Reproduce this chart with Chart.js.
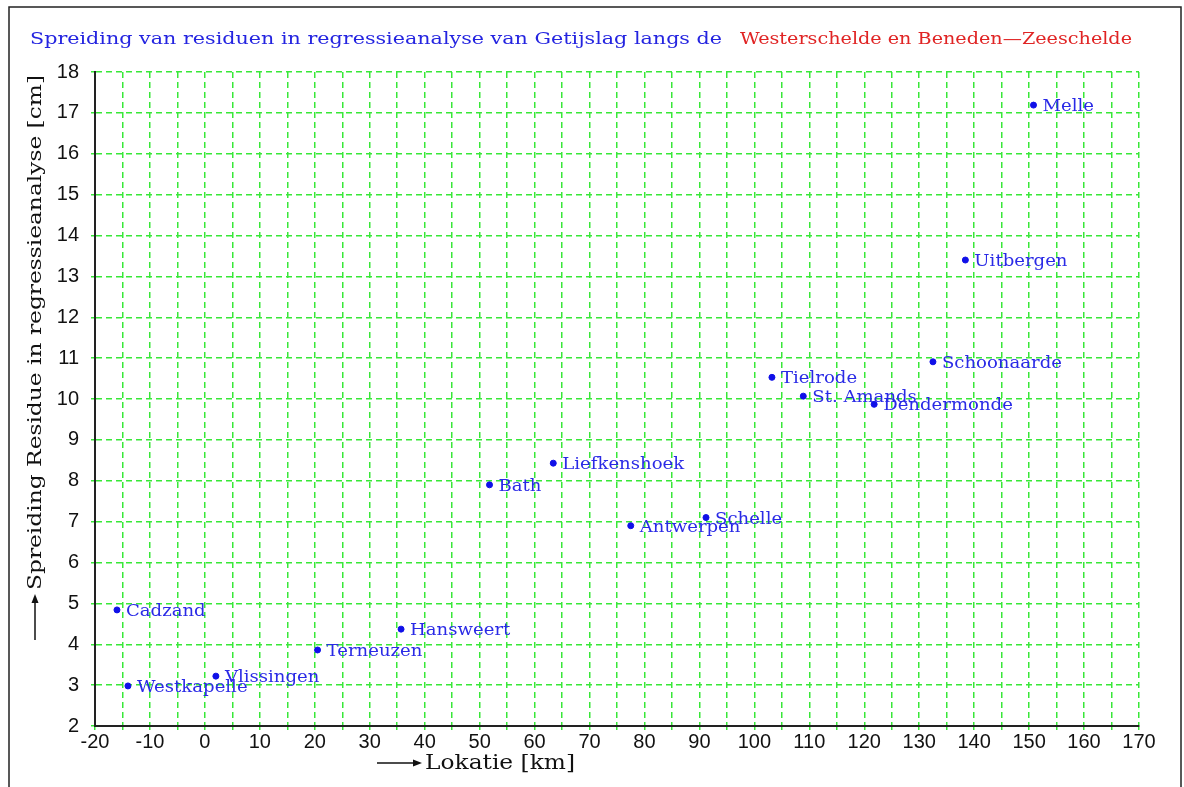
<!DOCTYPE html>
<html>
<head>
<meta charset="utf-8">
<script src="https://cdn.jsdelivr.net/npm/chart.js@4"></script>
<style>
  html, body { margin: 0; padding: 0; background: #fff; }
  #wrap { width: 1184px; height: 787px; }
</style>
</head>
<body>
<div id="wrap"><canvas id="chart" width="1184" height="787"></canvas></div>
<script>
// Stations along the Westerschelde / Beneden-Zeeschelde
const stations = ['Cadzand', 'Westkapelle', 'Vlissingen', 'Terneuzen', 'Hansweert', 'Bath',
  'Liefkenshoek', 'Antwerpen', 'Schelle', 'Tielrode', 'St. Amands', 'Dendermonde',
  'Schoonaarde', 'Uitbergen', 'Melle'];
const lokatie = [-16.0, -14.0, 2.0, 20.5, 35.7, 51.8, 63.4, 77.5, 91.2, 103.2, 108.9, 121.8, 132.5, 138.4, 150.8];
const residu = [4.84, 2.98, 3.22, 3.86, 4.37, 7.90, 8.43, 6.90, 7.10, 10.53, 10.07, 9.87, 10.91, 13.40, 17.19];

const xTicks = [-20, -10, 0, 10, 20, 30, 40, 50, 60, 70, 80, 90, 100, 110, 120, 130, 140, 150, 160, 170];
const yTicks = [2, 3, 4, 5, 6, 7, 8, 9, 10, 11, 12, 13, 14, 15, 16, 17, 18];

const titleBlue = 'Spreiding van residuen in regressieanalyse van Getijslag langs de';
const titleRed = 'Westerschelde en Beneden\u2014Zeeschelde';
const yTitle = 'Spreiding Residue in regressieanalyse [cm]';
const xTitle = 'Lokatie [km]';

const GREEN = '#38e838';
const SERIF = '"DejaVu Serif", "Liberation Serif", serif';

// arrow helper for the axis titles
function arrow(ctx, x1, y1, x2, y2) {
  const ang = Math.atan2(y2 - y1, x2 - x1);
  ctx.beginPath();
  ctx.moveTo(x1, y1);
  ctx.lineTo(x2 - 6 * Math.cos(ang), y2 - 6 * Math.sin(ang));
  ctx.stroke();
  ctx.beginPath();
  ctx.moveTo(x2, y2);
  ctx.lineTo(x2 - 9 * Math.cos(ang) + 3.5 * Math.sin(ang), y2 - 9 * Math.sin(ang) - 3.5 * Math.cos(ang));
  ctx.lineTo(x2 - 9 * Math.cos(ang) - 3.5 * Math.sin(ang), y2 - 9 * Math.sin(ang) + 3.5 * Math.cos(ang));
  ctx.closePath();
  ctx.fill();
}

// draw text stretched horizontally so it is as wide as in the original plot
function wideText(ctx, text, x, y, width) {
  const w = ctx.measureText(text).width;
  ctx.save();
  ctx.translate(x, y);
  ctx.scale(width / w, 1);
  ctx.fillText(text, 0, 0);
  ctx.restore();
}

const decor = {
  id: 'decor',
  beforeDraw(chart) {
    const ctx = chart.ctx;
    ctx.save();
    ctx.fillStyle = '#fff';
    ctx.fillRect(0, 0, chart.width, chart.height);
    ctx.restore();
  },
  afterDatasetsDraw(chart) {
    const ctx = chart.ctx;
    const meta = chart.getDatasetMeta(0);
    ctx.save();
    ctx.font = '16px ' + SERIF;
    ctx.fillStyle = '#2a2ae6';
    ctx.textBaseline = 'middle';
    meta.data.forEach((pt, i) => {
      const w = ctx.measureText(stations[i]).width;
      wideText(ctx, stations[i], pt.x + 9, pt.y + 2, w * 1.13);
    });
    ctx.restore();
  },
  afterDraw(chart) {
    const ctx = chart.ctx;
    ctx.save();
    // frame
    ctx.strokeStyle = '#222';
    ctx.lineWidth = 1.5;
    ctx.strokeRect(9, 7, 1172, 800);

    // title
    ctx.font = '17px ' + SERIF;
    ctx.textBaseline = 'middle';
    ctx.fillStyle = '#2424e0';
    wideText(ctx, titleBlue, 30, 40, 692);
    ctx.fillStyle = '#e02424';
    wideText(ctx, titleRed, 740, 40, 392);

    // x axis title
    ctx.fillStyle = '#111';
    ctx.strokeStyle = '#111';
    ctx.lineWidth = 1.5;
    arrow(ctx, 377, 763, 422, 763);
    ctx.font = '20px ' + SERIF;
    wideText(ctx, xTitle, 425, 764, 150);

    // y axis title
    arrow(ctx, 35, 640, 35, 594);
    ctx.translate(36, 590);
    ctx.rotate(-Math.PI / 2);
    ctx.font = '19px ' + SERIF;
    wideText(ctx, yTitle, 0, 0, 515);
    ctx.restore();
  }
};

new Chart(document.getElementById('chart'), {
  type: 'scatter',
  data: {
    datasets: [{
      label: 'Residu',
      data: lokatie.map((x, i) => ({ x: x, y: residu[i] })),
      backgroundColor: '#1010e8',
      borderColor: '#1010e8',
      pointRadius: 3,
      pointHoverRadius: 3
    }]
  },
  plugins: [decor],
  options: {
    responsive: false,
    animation: false,
    layout: { padding: { left: 0, top: 72, right: 45, bottom: 0 } },
    plugins: {
      legend: { display: false },
      tooltip: { enabled: false }
    },
    scales: {
      x: {
        type: 'linear',
        min: -20,
        max: 170,
        afterFit(scale) { scale.height = 61; },
        afterBuildTicks(scale) {
          const t = [];
          for (let v = -20; v <= 170; v += 5) t.push({ value: v });
          scale.ticks = t;
        },
        ticks: {
          autoSkip: false,
          maxRotation: 0,
          padding: 0,
          color: '#111',
          font: { family: '"Liberation Sans", Arial, sans-serif', size: 20 },
          callback: v => xTicks.includes(v) ? String(v) : ''
        },
        grid: { color: GREEN, lineWidth: 1.5, tickLength: 4 },
        border: { color: '#222', width: 2, dash: [6, 4] }
      },
      y: {
        type: 'linear',
        min: 2,
        max: 18,
        afterFit(scale) { scale.width = 95; },
        afterBuildTicks(scale) {
          scale.ticks = yTicks.map(v => ({ value: v }));
        },
        ticks: {
          autoSkip: false,
          padding: 12,
          color: '#111',
          font: { family: '"Liberation Sans", Arial, sans-serif', size: 20 }
        },
        grid: { color: GREEN, lineWidth: 1.5, tickLength: 4 },
        border: { color: '#222', width: 2, dash: [6, 4] }
      }
    }
  }
});
</script>
</body>
</html>
